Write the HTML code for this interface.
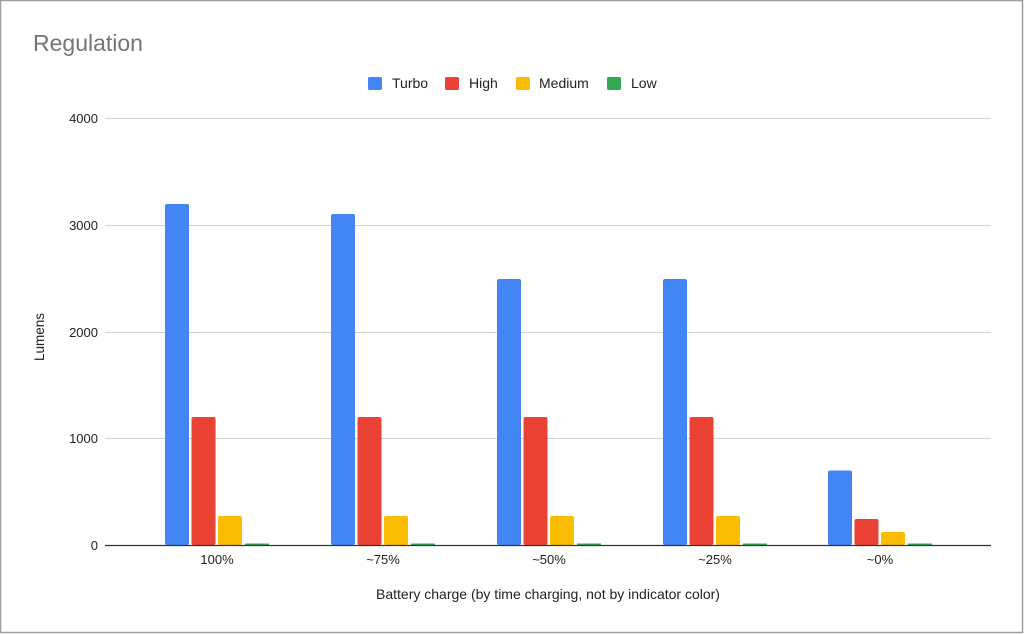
<!DOCTYPE html>
<html><head><meta charset="utf-8"><style>
html,body{margin:0;padding:0;background:#fff;}
svg{display:block;font-family:"Liberation Sans",Arial,sans-serif;}
</style></head><body>
<svg width="1024" height="634" viewBox="0 0 1024 634" xmlns="http://www.w3.org/2000/svg">
<rect x="0.5" y="0.5" width="1022" height="632" fill="#fff" stroke="#9e9e9e" stroke-width="1.5"/>
<text x="33" y="51" font-size="23" fill="#757575">Regulation</text>
<g font-size="14" fill="#222">
<rect x="368" y="77" width="14" height="13" rx="1.5" fill="#4285f4"/><text x="392" y="88">Turbo</text>
<rect x="445" y="77" width="14" height="13" rx="1.5" fill="#ea4335"/><text x="469" y="88">High</text>
<rect x="516" y="77" width="14" height="13" rx="1.5" fill="#fbbc04"/><text x="539" y="88">Medium</text>
<rect x="607" y="77" width="14" height="13" rx="1.5" fill="#34a853"/><text x="631" y="88">Low</text>
</g>
<g stroke="#d0d0d0" stroke-width="1">
<line x1="105" y1="118.5" x2="991" y2="118.5"/>
<line x1="105" y1="225.5" x2="991" y2="225.5"/>
<line x1="105" y1="332.5" x2="991" y2="332.5"/>
<line x1="105" y1="438.5" x2="991" y2="438.5"/>
</g>
<g font-size="13" fill="#222" text-anchor="end">
<text x="98" y="123">4000</text>
<text x="98" y="230">3000</text>
<text x="98" y="337">2000</text>
<text x="98" y="443">1000</text>
<text x="98" y="550">0</text>
</g>
<text transform="translate(44,337) rotate(-90)" font-size="13.5" fill="#222" text-anchor="middle">Lumens</text>
<g>
<rect x="165" y="204" width="24" height="341" rx="2" fill="#4285f4"/>
<rect x="191.5" y="417" width="24" height="128" rx="2" fill="#ea4335"/>
<rect x="218" y="516" width="24" height="29" rx="2" fill="#fbbc04"/>
<rect x="245" y="543.5" width="24" height="1.5" fill="#34a853"/>
<rect x="331" y="214" width="24" height="331" rx="2" fill="#4285f4"/>
<rect x="357.5" y="417" width="24" height="128" rx="2" fill="#ea4335"/>
<rect x="384" y="516" width="24" height="29" rx="2" fill="#fbbc04"/>
<rect x="411" y="543.5" width="24" height="1.5" fill="#34a853"/>
<rect x="497" y="279" width="24" height="266" rx="2" fill="#4285f4"/>
<rect x="523.5" y="417" width="24" height="128" rx="2" fill="#ea4335"/>
<rect x="550" y="516" width="24" height="29" rx="2" fill="#fbbc04"/>
<rect x="577" y="543.5" width="24" height="1.5" fill="#34a853"/>
<rect x="663" y="279" width="24" height="266" rx="2" fill="#4285f4"/>
<rect x="689.5" y="417" width="24" height="128" rx="2" fill="#ea4335"/>
<rect x="716" y="516" width="24" height="29" rx="2" fill="#fbbc04"/>
<rect x="743" y="543.5" width="24" height="1.5" fill="#34a853"/>
<rect x="828" y="470.5" width="24" height="74.5" rx="2" fill="#4285f4"/>
<rect x="854.5" y="519" width="24" height="26" rx="2" fill="#ea4335"/>
<rect x="881" y="532" width="24" height="13" rx="2" fill="#fbbc04"/>
<rect x="908" y="543.5" width="24" height="1.5" fill="#34a853"/>
</g>
<line x1="105" y1="545.5" x2="991" y2="545.5" stroke="#333" stroke-width="1.2"/>
<g font-size="13" fill="#222" text-anchor="middle">
<text x="217" y="564">100%</text>
<text x="383" y="564">~75%</text>
<text x="549" y="564">~50%</text>
<text x="715" y="564">~25%</text>
<text x="880" y="564">~0%</text>
</g>
<text x="548" y="599" font-size="14" fill="#222" text-anchor="middle">Battery charge (by time charging, not by indicator color)</text>
</svg>
</body></html>
